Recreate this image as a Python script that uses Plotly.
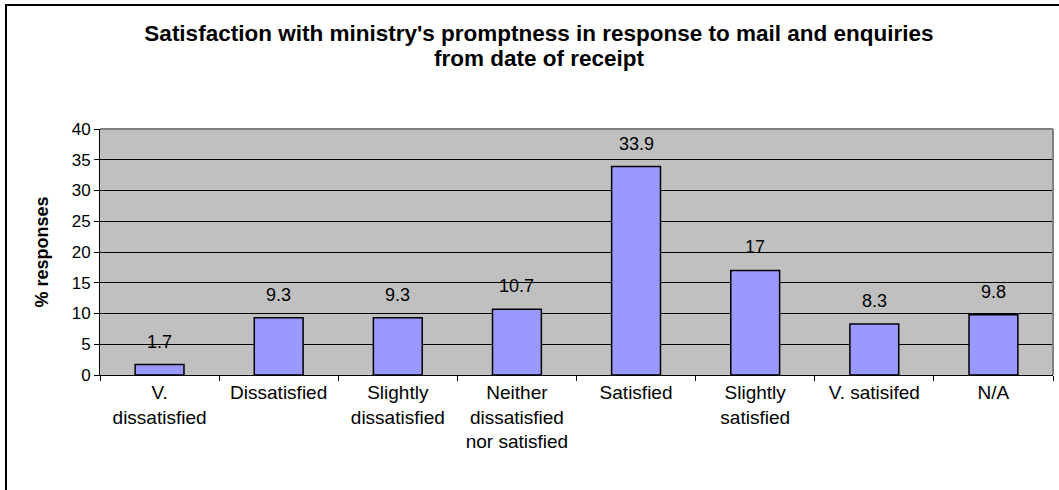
import plotly.graph_objects as go

categories = ["V.<br>dissatisfied", "Dissatisfied", "Slightly<br>dissatisfied",
              "Neither<br>dissatisfied<br>nor satisfied", "Satisfied",
              "Slightly<br>satisfied", "V. satisifed", "N/A"]
values = [1.7, 9.3, 9.3, 10.7, 33.9, 17, 8.3, 9.8]
value_labels = ["1.7", "9.3", "9.3", "10.7", "33.9", "17", "8.3", "9.8"]
y_ticks = [0, 5, 10, 15, 20, 25, 30, 35, 40]
title_line1 = "Satisfaction with ministry's promptness in response to mail and enquiries"
title_line2 = "from date of receipt"

W, H = 1059, 490
ML, MR, MT, MB = 100, 6, 129, 115
pw = W - ML - MR
ph = H - MT - MB
FONT = "Liberation Sans, Arial"

fig = go.Figure()
fig.add_trace(go.Bar(
    x=categories, y=values, width=0.41,
    marker=dict(color="#9999FF", line=dict(color="black", width=1.5)),
    hoverinfo="skip",
))

for c, v, t in zip(categories, values, value_labels):
    fig.add_annotation(x=c, y=v, text=t, showarrow=False, yshift=23,
                       yanchor="middle", font=dict(family=FONT, size=18, color="black"))

# second title line
fig.add_annotation(xref="paper", yref="paper", x=(539 - ML) / pw, y=1 + (MT - 58) / ph,
                   xanchor="center", yanchor="middle", showarrow=False,
                   text="<b>" + title_line2 + "</b>",
                   font=dict(family=FONT, size=22.5, color="black"))

# outer frame (extends past right/bottom edges like the reference)
fig.add_shape(type="rect", xref="paper", yref="paper",
              x0=(6 - ML) / pw, x1=1.2, y0=-1.0, y1=1 + (MT - 5) / ph,
              line=dict(color="black", width=2), fillcolor="rgba(0,0,0,0)", layer="below")

fig.update_layout(
    width=W, height=H,
    margin=dict(l=ML, r=MR, t=MT, b=MB, autoexpand=False),
    paper_bgcolor="white", plot_bgcolor="#C0C0C0",
    showlegend=False,
    title=dict(text="<b>" + title_line1 + "</b>",
               x=539 / W, xanchor="center", xref="container",
               y=1 - 33 / H, yanchor="middle", yref="container",
               font=dict(family=FONT, size=22.5, color="black")),
    font=dict(family=FONT, color="black"),
)

fig.update_xaxes(
    tickson="boundaries", ticks="outside", ticklen=5, tickcolor="black",
    showline=True, linecolor="black", linewidth=1, mirror=False,
    tickfont=dict(size=19), showgrid=False, fixedrange=True,
)
fig.update_yaxes(
    range=[0, 40], tickvals=y_ticks, ticks="outside", ticklen=5, tickcolor="black",
    showline=True, linecolor="black", linewidth=1,
    showgrid=True, gridcolor="black", gridwidth=1, zeroline=False,
    tickfont=dict(size=17),
    title=dict(text="<b>% responses</b>", font=dict(size=18), standoff=18),
    automargin=False, fixedrange=True,
)

# gray top/right plot border
fig.add_shape(type="line", xref="paper", yref="paper", x0=0, x1=1, y0=1, y1=1,
              line=dict(color="#808080", width=2))
fig.add_shape(type="line", xref="paper", yref="paper", x0=1, x1=1, y0=0, y1=1,
              line=dict(color="#808080", width=2))

fig.write_html("out.html", config={"displayModeBar": False},
               post_script="document.body.style.margin='0';")
